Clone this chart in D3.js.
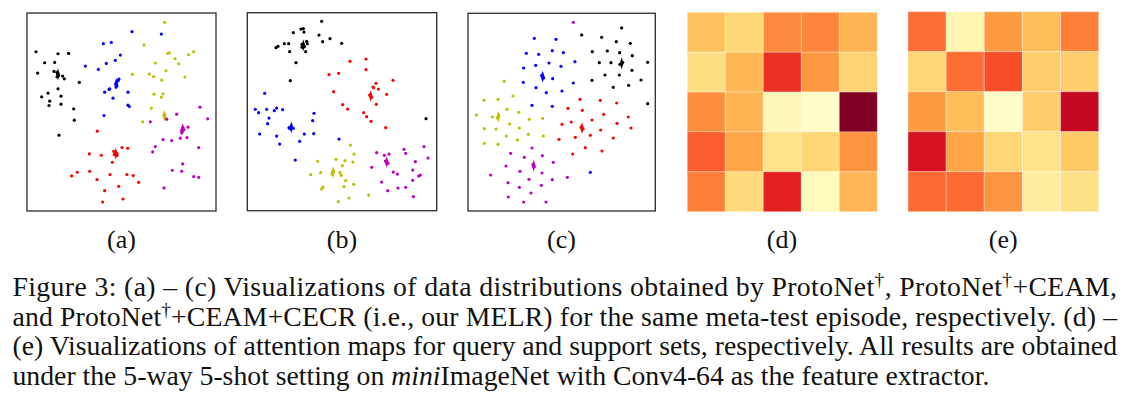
<!DOCTYPE html>
<html>
<head>
<meta charset="utf-8">
<script src="https://cdn.jsdelivr.net/npm/d3@7"></script>
<style>
  body { margin: 0; background: #fff; }
  svg { display: block; }
</style>
</head>
<body>
<svg id="fig" width="1137" height="399"></svg>
<script>
// class colours (matplotlib k, b, y, m, r)
var classNames = ["black", "blue", "yellow", "magenta", "red"];
var classColors = ["#000000", "#0000ff", "#bfbf00", "#bf00bf", "#ff0000"];

// ---- panel (a): ProtoNet ----
var aBlack = [[47,126],[113,132],[145,131],[73,159],[103,158],[52,190],[101,185],[110,188],[113,193],[115,197],[127,199],[110,201],[132,207],[177,218],[113,237],[83,250],[122,259],[64,261],[88,274],[86,287],[122,283],[160,297],[162,331],[116,376]];
var aBlue = [[335,66],[423,73],[249,102],[273,98],[300,136],[285,152],[258,161],[195,169],[234,179],[296,208],[294,212],[288,218],[286,224],[290,228],[287,232],[268,237],[266,239],[253,247],[323,247],[278,265],[323,286],[327,290],[251,317]];
var aYellow = [[433,38],[371,106],[442,131],[447,129],[520,126],[505,135],[464,147],[475,162],[405,160],[437,183],[336,194],[387,193],[400,201],[494,202],[424,211],[401,253],[428,252],[423,262],[393,295],[432,313],[434,322],[367,336]];
var aMagenta = [[539,292],[562,327],[469,313],[439,328],[390,336],[503,352],[488,353],[484,362],[491,360],[484,369],[500,383],[480,385],[428,389],[454,392],[405,410],[397,426],[535,413],[487,462],[456,481],[484,484],[520,500],[535,502],[431,534]];
var aRed = [[231,364],[305,413],[322,415],[280,424],[284,428],[290,431],[282,434],[290,437],[207,432],[243,436],[276,457],[171,487],[208,484],[154,498],[269,494],[320,494],[339,497],[230,509],[355,517],[295,529],[253,542],[308,567],[247,576]];
var aProto = [[113,194],[288,222],[432,318],[487,358],[286,431]];

// ---- panel (b): ProtoNet + CEAM ----
var bBlack = [[245,34],[183,57],[190,56],[192,66],[160,68],[237,75],[270,86],[248,95],[133,101],[146,101],[108,113],[114,109],[186,103],[193,110],[186,112],[200,94],[202,101],[305,100],[149,125],[197,125],[168,158],[151,212],[558,326]];
var bBlue = [[74,250],[46,298],[56,308],[80,298],[103,302],[110,294],[128,299],[222,310],[87,324],[83,341],[218,332],[147,353],[153,349],[160,355],[150,356],[59,372],[110,378],[193,372],[221,371],[179,394],[119,402],[297,387],[166,450]];
var bYellow = [[331,405],[342,432],[288,448],[233,454],[315,452],[339,456],[307,467],[280,482],[276,492],[300,488],[304,496],[242,488],[212,494],[317,512],[341,523],[312,530],[249,531],[245,537],[386,555],[327,564],[295,575]];
var bMagenta = [[552,410],[492,418],[497,430],[410,428],[433,436],[447,432],[564,444],[436,453],[444,460],[526,455],[395,472],[460,486],[472,492],[518,480],[541,495],[536,498],[425,516],[518,511],[443,542],[474,534],[497,532],[520,560]];
var bRed = [[330,154],[378,147],[378,179],[267,194],[296,190],[459,211],[408,220],[399,231],[401,233],[415,237],[440,253],[389,255],[395,262],[281,245],[308,284],[409,283],[323,297],[371,308],[380,320],[393,334],[437,353]];
var bProto = [[190,106],[154,352],[279,487],[440,456],[392,258]];

// ---- panel (c): ProtoNet + CEAM + CECR (MELR) ----
var cBlack = [[491,54],[371,75],[431,82],[475,95],[517,100],[403,125],[448,123],[485,128],[523,137],[424,158],[459,158],[486,163],[494,157],[569,157],[522,181],[441,195],[484,195],[549,210],[402,211],[512,226],[466,232],[569,281]];
var cBlue = [[229,85],[294,88],[205,130],[242,133],[283,122],[316,128],[273,159],[233,166],[309,169],[351,155],[197,174],[251,196],[257,204],[284,206],[196,217],[234,233],[346,219],[265,248],[312,243],[222,286],[283,289],[397,487]];
var cYellow = [[139,214],[165,258],[78,271],[120,268],[147,298],[182,307],[55,315],[103,321],[118,324],[122,316],[214,328],[254,325],[155,342],[79,356],[114,357],[184,354],[211,373],[145,378],[256,378],[178,390],[79,400],[120,403]];
var cMagenta = [[346,37],[222,414],[158,430],[253,437],[199,442],[286,457],[144,468],[225,463],[229,470],[186,484],[98,495],[252,489],[328,502],[213,508],[283,509],[150,518],[250,526],[184,532],[219,549],[151,561],[197,576],[264,576]];
var cRed = [[366,268],[427,271],[476,279],[330,295],[373,301],[437,313],[511,321],[402,330],[340,336],[477,340],[312,343],[369,351],[375,357],[519,354],[428,360],[352,382],[397,376],[466,384],[303,388],[382,413],[432,423],[344,432]];
var cProto = [[491,160],[254,200],[121,320],[227,467],[372,354]];

// ---- panels (d), (e): attention maps, 5x5, values in [0,1] ----
var dValues = [
  [0.33, 0.25, 0.50, 0.51, 0.37],
  [0.21, 0.36, 0.70, 0.46, 0.26],
  [0.48, 0.37, 0.06, 0.01, 1.00],
  [0.60, 0.42, 0.19, 0.25, 0.47],
  [0.52, 0.23, 0.75, 0.04, 0.36]
];
var eValues = [
  [0.56, 0.07, 0.45, 0.34, 0.52],
  [0.25, 0.56, 0.63, 0.28, 0.28],
  [0.45, 0.34, 0.01, 0.28, 0.84],
  [0.79, 0.42, 0.25, 0.19, 0.30],
  [0.57, 0.57, 0.47, 0.13, 0.20]
];

var subLabels = ["(a)", "(b)", "(c)", "(d)", "(e)"];

var svg = d3.select("#fig");
svg.append("rect").attr("width", 1137).attr("height", 399).attr("fill", "#fff");

// scatter panels
var scatterPanels = [
  { sets: [aBlack, aBlue, aYellow, aMagenta, aRed], proto: aProto, dx: [20, 587], dy: [10, 603], box: [27, 13, 216, 211] },
  { sets: [bBlack, bBlue, bYellow, bMagenta, bRed], proto: bProto, dx: [22, 590], dy: [8, 602], box: [247.3, 12.7, 436.7, 210.7] },
  { sets: [cBlack, cBlue, cYellow, cMagenta, cRed], proto: cProto, dx: [30, 592], dy: [10, 603], box: [468, 13.3, 655.3, 211] }
];

var diamond = d3.symbol().type(d3.symbolDiamond).size(20);

scatterPanels.forEach(function(p) {
  var x = d3.scaleLinear().domain(p.dx).range([p.box[0], p.box[2]]);
  var y = d3.scaleLinear().domain(p.dy).range([p.box[1], p.box[3]]);
  var g = svg.append("g");

  p.sets.forEach(function(pts, ci) {
    g.selectAll(".pt-" + classNames[ci])
      .data(pts)
      .enter().append("circle")
      .attr("class", "pt-" + classNames[ci])
      .attr("cx", function(d) { return x(d[0]); })
      .attr("cy", function(d) { return y(d[1]); })
      .attr("r", 1.6)
      .attr("fill", classColors[ci]);
  });

  g.selectAll(".proto")
    .data(p.proto)
    .enter().append("path")
    .attr("class", "proto")
    .attr("d", diamond)
    .attr("transform", function(d) { return "translate(" + x(d[0]) + "," + y(d[1]) + ") scale(0.8,1.4)"; })
    .attr("fill", function(d, i) { return classColors[i]; });

  g.append("rect")
    .attr("x", p.box[0]).attr("y", p.box[1])
    .attr("width", p.box[2] - p.box[0]).attr("height", p.box[3] - p.box[1])
    .attr("fill", "none")
    .attr("stroke", "#2a2a2a")
    .attr("stroke-width", 1.3);
});

// heatmaps
var color = d3.scaleSequential(d3.interpolateYlOrRd).domain([0, 1]);
var heatPanels = [
  { values: dValues, box: [687.3, 12.3, 877.3, 211.7] },
  { values: eValues, box: [908, 11.7, 1098.7, 211.7] }
];
heatPanels.forEach(function(p) {
  var idx = d3.range(5);
  var x = d3.scaleBand().domain(idx).range([p.box[0], p.box[2]]);
  var y = d3.scaleBand().domain(idx).range([p.box[1], p.box[3]]);
  var cells = [];
  p.values.forEach(function(row, r) {
    row.forEach(function(v, c) { cells.push({ r: r, c: c, v: v }); });
  });
  svg.append("g").selectAll("rect")
    .data(cells)
    .enter().append("rect")
    .attr("x", function(d) { return x(d.c); })
    .attr("y", function(d) { return y(d.r); })
    .attr("width", x.bandwidth())
    .attr("height", y.bandwidth())
    .attr("fill", function(d) { return color(d.v); })
    .attr("stroke", "rgba(255,255,255,0.3)")
    .attr("stroke-width", 1);
});

var serif = "'Liberation Serif', 'Times New Roman', serif";

// sub-figure labels
var labelX = [121.5, 342, 561.5, 782, 1003.3];
svg.selectAll(".sublabel")
  .data(subLabels)
  .enter().append("text")
  .attr("class", "sublabel")
  .attr("x", function(d, i) { return labelX[i]; })
  .attr("y", 248)
  .attr("text-anchor", "middle")
  .style("font-family", serif)
  .style("font-size", "26px")
  .attr("fill", "#111")
  .text(function(d) { return d; });

// caption, justified lines
var captionLines = [
  [["Figure 3: (a) – (c) Visualizations of data distributions obtained by ProtoNet"], ["†", "sup"], [", ProtoNet"], ["†", "sup"], ["+CEAM,"]],
  [["and ProtoNet"], ["†", "sup"], ["+CEAM+CECR (i.e., our MELR) for the same meta-test episode, respectively. (d) –"]],
  [["(e) Visualizations of attention maps for query and support sets, respectively. All results are obtained"]],
  [["under the 5-way 5-shot setting on "], ["mini", "it"], ["ImageNet with Conv4-64 as the feature extractor."]]
];
var baselines = [296, 325.5, 355, 384.5];
var capLeft = 12.5, capRight = 1117, lastRight = 990;

function drawLine(parts, li, size) {
  var t = svg.append("text")
    .attr("class", "caption")
    .attr("x", capLeft)
    .attr("y", baselines[li])
    .style("font-family", serif)
    .style("font-size", size + "px")
    .attr("fill", "#111");
  var prevSup = false;
  parts.forEach(function(p) {
    var ts = t.append("tspan").text(p[0]);
    if (prevSup) ts.attr("dy", size * 0.36);
    prevSup = false;
    if (p[1] === "sup") {
      ts.style("font-size", (size * 0.7) + "px").attr("dy", -size * 0.36);
      prevSup = true;
    } else if (p[1] === "it") {
      ts.style("font-style", "italic");
    }
  });
  return t;
}

// fit the font size on the last (unjustified) line
var probe = drawLine(captionLines[3], 3, 20);
var fontSize = 20 * (lastRight - capLeft) / probe.node().getComputedTextLength();
probe.remove();

captionLines.forEach(function(parts, li) {
  var t = drawLine(parts, li, fontSize);
  if (li < captionLines.length - 1) {
    t.attr("textLength", capRight - capLeft).attr("lengthAdjust", "spacing");
  }
});
</script>
</body>
</html>
